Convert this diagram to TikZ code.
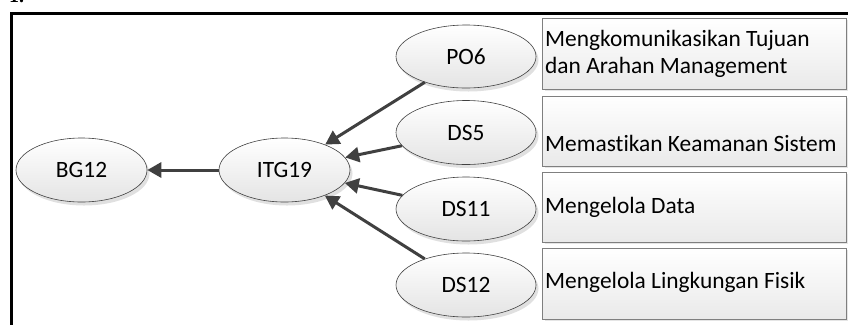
\documentclass[tikz,border=0pt]{standalone}
\usepackage{fontspec}
\setmainfont{Carlito}[Ligatures={NoCommon}]
\newfontfamily\serifnum{Liberation Serif}
\usetikzlibrary{shapes.geometric,arrows.meta,shadows}
\definecolor{linegray}{HTML}{404040}
\definecolor{boxedge}{HTML}{7F7F7F}
\definecolor{fillbot}{HTML}{E4E4E4}
\tikzset{
  oval/.style={ellipse, draw=linegray, line width=0.6bp, inner sep=0pt,
    top color=white, bottom color=fillbot,
    drop shadow={shadow xshift=2.5bp, shadow yshift=-3.5bp, fill=black!12, opacity=1},
    font=\fontsize{23.5}{27}\selectfont},
  descbox/.style={rectangle, draw=boxedge, line width=0.8bp, inner sep=0pt,
    top color=white, bottom color=fillbot!80,
    drop shadow={shadow xshift=2bp, shadow yshift=-2bp, fill=black!10, opacity=1},
    minimum width=304bp},
  desctext/.style={anchor=base west, inner sep=0pt, font=\fontsize{23.5}{27}\selectfont},
  link/.style={draw=linegray, line width=3bp, -{Triangle[length=14bp,width=15bp]}},
}
\begin{document}
\begin{tikzpicture}[x=1bp,y=-1bp]
\useasboundingbox (0,0) rectangle (848,324);
\clip (0,0) rectangle (848,324);
\node[anchor=base west, inner sep=0pt, font=\serifnum\bfseries\fontsize{20}{24}\selectfont] (num) at (9,2) {1.};
\draw[line width=3bp] (11.5,330) -- (11.5,13.8) -- (860,13.8);

\node[oval, minimum width=131bp, minimum height=64bp] (bg12) at (81.5,170) {BG12};
\node[oval, minimum width=131bp, minimum height=64bp] (itg19) at (284.5,170) {ITG19};
\node[oval, minimum width=140bp, minimum height=63bp] (po6) at (466,56.5) {PO6};
\node[oval, minimum width=140bp, minimum height=64bp] (ds5) at (466,132.5) {DS5};
\node[oval, minimum width=140bp, minimum height=64bp] (ds11) at (466,209) {DS11};
\node[oval, minimum width=140bp, minimum height=64bp] (ds12) at (466,285) {DS12};

\node[descbox, minimum height=71bp] (b1) at (694.5,53.8) {};
\node[descbox, minimum height=70bp] (b2) at (694.5,130.9) {};
\node[descbox, minimum height=70bp] (b3) at (694.5,207.3) {};
\node[descbox, minimum height=71bp] (b4) at (694.5,283.8) {};

\node[desctext] (t1a) at (545,46) {Mengkomunikasikan Tujuan};
\node[desctext] (t1b) at (545,73) {dan Arahan Management};
\node[desctext] (t2) at (545,151.7) {Memastikan Keamanan Sistem};
\node[desctext] (t3) at (545,213.3) {Mengelola Data};
\node[desctext] (t4) at (545,288) {Mengelola Lingkungan Fisik};

\draw[link] (itg19) -- (bg12);
\draw[link] (po6) -- (itg19);
\draw[link] (ds5) -- (itg19);
\draw[link] (ds11) -- (itg19);
\draw[link] (ds12) -- (itg19);
\end{tikzpicture}
\end{document}
